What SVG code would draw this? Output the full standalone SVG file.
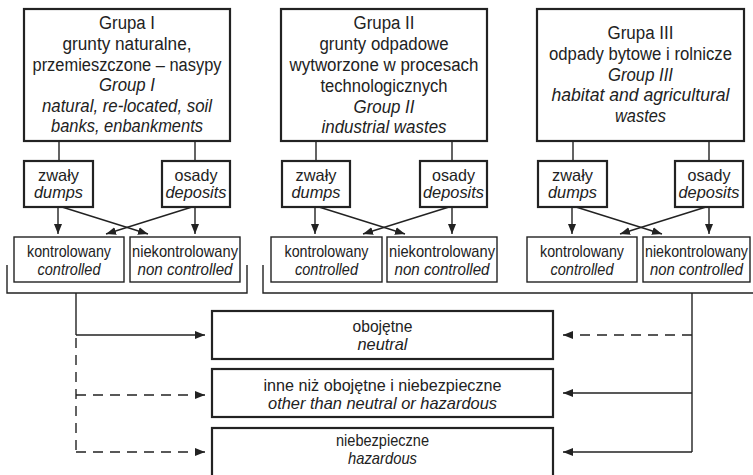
<svg xmlns="http://www.w3.org/2000/svg" width="753" height="475" viewBox="0 0 753 475">
<style>
text{font-family:"Liberation Sans",Arial,sans-serif;fill:#222;text-anchor:middle}
.g{font-size:18px}
.s{font-size:17px}
.t{font-size:16.5px}
.i{font-style:italic}
.bx{fill:#fff;stroke:#222;stroke-width:2.2}
.bt{fill:#fff;stroke:#222;stroke-width:1.4}
.ln{fill:none;stroke:#222;stroke-width:1.4}
.ds{fill:none;stroke:#222;stroke-width:1.4;stroke-dasharray:10 7}
</style>
<defs>
<marker id="ah" viewBox="0 0 10 8" refX="10" refY="4" markerWidth="10" markerHeight="8" markerUnits="userSpaceOnUse" orient="auto">
<path d="M0,0 L10,4 L0,8 Z" fill="#222"/>
</marker>
</defs>

<g id="connectors">
<path class="ln" d="M59,141 V161 M195,141 V161"/>
<path class="ln" d="M58,207 V234" marker-end="url(#ah)"/>
<path class="ln" d="M62,207 L148,234" marker-end="url(#ah)"/>
<path class="ln" d="M195,207 V234" marker-end="url(#ah)"/>
<path class="ln" d="M192,207 L106,234" marker-end="url(#ah)"/>
<path class="ln" d="M316,141 V161 M452,141 V161"/>
<path class="ln" d="M315,207 V234" marker-end="url(#ah)"/>
<path class="ln" d="M319,207 L405,234" marker-end="url(#ah)"/>
<path class="ln" d="M452,207 V234" marker-end="url(#ah)"/>
<path class="ln" d="M449,207 L363,234" marker-end="url(#ah)"/>
<path class="ln" d="M573,141 V161 M709,141 V161"/>
<path class="ln" d="M572,207 V234" marker-end="url(#ah)"/>
<path class="ln" d="M576,207 L662,234" marker-end="url(#ah)"/>
<path class="ln" d="M709,207 V234" marker-end="url(#ah)"/>
<path class="ln" d="M706,207 L620,234" marker-end="url(#ah)"/>
<path class="ln" d="M7,265 V293 H247 V265"/>
<path class="ln" d="M263,265 V293 H753"/>
<path class="ln" d="M76,293 V335"/>
<path class="ln" d="M76,335 H205" marker-end="url(#ah)"/>
<path class="ds" d="M76,338 V452"/>
<path class="ds" d="M76,395 H205" marker-end="url(#ah)"/>
<path class="ds" d="M76,452 H205" marker-end="url(#ah)"/>
<path class="ln" d="M692,293 V452"/>
<path class="ds" d="M692,335 H563" marker-end="url(#ah)"/>
<path class="ln" d="M692,393 H563" marker-end="url(#ah)"/>
<path class="ln" d="M692,452 H563" marker-end="url(#ah)"/>
</g>

<g id="group1">
<rect class="bx" x="24" y="9" width="206" height="132"/>
<text class="g" x="127" y="29" textLength="56" lengthAdjust="spacingAndGlyphs">Grupa I</text>
<text class="g" x="127" y="50" textLength="129" lengthAdjust="spacingAndGlyphs">grunty naturalne,</text>
<text class="g" x="127" y="70.5" textLength="189" lengthAdjust="spacingAndGlyphs">przemieszczone – nasypy</text>
<text class="g i" x="127" y="91" textLength="56" lengthAdjust="spacingAndGlyphs">Group I</text>
<text class="g i" x="127" y="112" textLength="170" lengthAdjust="spacingAndGlyphs">natural, re-located, soil</text>
<text class="g i" x="127" y="132" textLength="152" lengthAdjust="spacingAndGlyphs">banks, enbankments</text>
</g>
<g id="group2">
<rect class="bx" x="281" y="9" width="206" height="132"/>
<text class="g" x="384" y="29" textLength="61" lengthAdjust="spacingAndGlyphs">Grupa II</text>
<text class="g" x="384" y="50" textLength="129" lengthAdjust="spacingAndGlyphs">grunty odpadowe</text>
<text class="g" x="384" y="71" textLength="189" lengthAdjust="spacingAndGlyphs">wytworzone w procesach</text>
<text class="g" x="384" y="92" textLength="127" lengthAdjust="spacingAndGlyphs">technologicznych</text>
<text class="g i" x="384" y="113" textLength="61" lengthAdjust="spacingAndGlyphs">Group II</text>
<text class="g i" x="384" y="133" textLength="125" lengthAdjust="spacingAndGlyphs">industrial wastes</text>
</g>
<g id="group3">
<rect class="bx" x="537" y="9" width="207" height="132"/>
<text class="g" x="640.5" y="39" textLength="66" lengthAdjust="spacingAndGlyphs">Grupa III</text>
<text class="g" x="640.5" y="60" textLength="183" lengthAdjust="spacingAndGlyphs">odpady bytowe i rolnicze</text>
<text class="g i" x="640.5" y="80.5" textLength="65" lengthAdjust="spacingAndGlyphs">Group III</text>
<text class="g i" x="640.5" y="101" textLength="178" lengthAdjust="spacingAndGlyphs">habitat and agricultural</text>
<text class="g i" x="640.5" y="122" textLength="51" lengthAdjust="spacingAndGlyphs">wastes</text>
</g>

<g id="dumps1"><rect class="bx" x="24" y="161" width="69" height="46"/><text class="t" x="58.5" y="180.5" textLength="41" lengthAdjust="spacingAndGlyphs">zwały</text><text class="t i" x="58.5" y="197.5" textLength="49" lengthAdjust="spacingAndGlyphs">dumps</text></g>
<g id="deposits1"><rect class="bx" x="162" y="161" width="68" height="46"/><text class="t" x="196" y="180.5" textLength="43" lengthAdjust="spacingAndGlyphs">osady</text><text class="t i" x="196" y="197.5" textLength="61" lengthAdjust="spacingAndGlyphs">deposits</text></g>
<g id="dumps2"><rect class="bx" x="282" y="161" width="68" height="46"/><text class="t" x="316" y="180.5" textLength="41" lengthAdjust="spacingAndGlyphs">zwały</text><text class="t i" x="316" y="197.5" textLength="49" lengthAdjust="spacingAndGlyphs">dumps</text></g>
<g id="deposits2"><rect class="bx" x="420" y="161" width="67" height="46"/><text class="t" x="453.5" y="180.5" textLength="43" lengthAdjust="spacingAndGlyphs">osady</text><text class="t i" x="453.5" y="197.5" textLength="61" lengthAdjust="spacingAndGlyphs">deposits</text></g>
<g id="dumps3"><rect class="bx" x="538" y="161" width="69" height="46"/><text class="t" x="572.5" y="180.5" textLength="41" lengthAdjust="spacingAndGlyphs">zwały</text><text class="t i" x="572.5" y="197.5" textLength="49" lengthAdjust="spacingAndGlyphs">dumps</text></g>
<g id="deposits3"><rect class="bx" x="675" y="161" width="68" height="46"/><text class="t" x="709" y="180.5" textLength="43" lengthAdjust="spacingAndGlyphs">osady</text><text class="t i" x="709" y="197.5" textLength="61" lengthAdjust="spacingAndGlyphs">deposits</text></g>

<g id="controlled1"><rect class="bt" x="14" y="237" width="110" height="45"/><text class="s" x="69" y="257" textLength="84" lengthAdjust="spacingAndGlyphs">kontrolowany</text><text class="s i" x="69" y="275" textLength="63" lengthAdjust="spacingAndGlyphs">controlled</text></g>
<g id="noncontrolled1"><rect class="bt" x="130" y="237" width="110" height="45"/><text class="s" x="185" y="257" textLength="106" lengthAdjust="spacingAndGlyphs">niekontrolowany</text><text class="s i" x="185" y="275" textLength="95" lengthAdjust="spacingAndGlyphs">non controlled</text></g>
<g id="controlled2"><rect class="bt" x="271" y="237" width="111" height="45"/><text class="s" x="326.5" y="257" textLength="84" lengthAdjust="spacingAndGlyphs">kontrolowany</text><text class="s i" x="326.5" y="275" textLength="63" lengthAdjust="spacingAndGlyphs">controlled</text></g>
<g id="noncontrolled2"><rect class="bt" x="387" y="237" width="110" height="45"/><text class="s" x="442" y="257" textLength="106" lengthAdjust="spacingAndGlyphs">niekontrolowany</text><text class="s i" x="442" y="275" textLength="95" lengthAdjust="spacingAndGlyphs">non controlled</text></g>
<g id="controlled3"><rect class="bt" x="527" y="237" width="110" height="45"/><text class="s" x="582" y="257" textLength="84" lengthAdjust="spacingAndGlyphs">kontrolowany</text><text class="s i" x="582" y="275" textLength="63" lengthAdjust="spacingAndGlyphs">controlled</text></g>
<g id="noncontrolled3"><rect class="bt" x="643" y="237" width="107" height="45"/><text class="s" x="696.5" y="257" textLength="103" lengthAdjust="spacingAndGlyphs">niekontrolowany</text><text class="s i" x="696.5" y="275" textLength="93" lengthAdjust="spacingAndGlyphs">non controlled</text></g>

<g id="neutral"><rect class="bx" x="212" y="311" width="341" height="48"/><text class="s" x="382.5" y="332" textLength="60" lengthAdjust="spacingAndGlyphs">obojętne</text><text class="s i" x="382.5" y="350" textLength="50" lengthAdjust="spacingAndGlyphs">neutral</text></g>
<g id="other"><rect class="bx" x="212" y="369" width="341" height="48"/><text class="s" x="382.5" y="391" textLength="238" lengthAdjust="spacingAndGlyphs">inne niż obojętne i niebezpieczne</text><text class="s i" x="382.5" y="409" textLength="229" lengthAdjust="spacingAndGlyphs">other than neutral or hazardous</text></g>
<g id="hazardous"><rect class="bx" x="212" y="428" width="341" height="50"/><text class="s" x="382.5" y="446" textLength="93" lengthAdjust="spacingAndGlyphs">niebezpieczne</text><text class="s i" x="382.5" y="464" textLength="69" lengthAdjust="spacingAndGlyphs">hazardous</text></g>
</svg>
